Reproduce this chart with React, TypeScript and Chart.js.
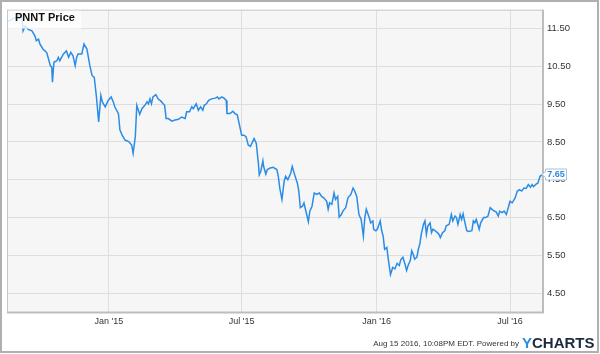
import React, { useEffect, useRef } from "react";
import { Chart, registerables } from "chart.js";

Chart.register(...registerables);

// ---- Data (days since START_DATE, closing price) ----
const START_DATE = "2014-08-15";
const END_DATE = "2016-08-15";
const dayOffsets: number[] = [
  0, 7, 11, 15, 18, 20, 22, 25, 29, 34,
  38, 40, 43, 45, 49, 54, 56, 59, 61, 62,
  64, 68, 70, 72, 77, 81, 84, 87, 90, 93,
  95, 97, 102, 105, 109, 113, 116, 119, 122, 125,
  128, 130, 134, 138, 142, 145, 147, 152, 154, 157,
  161, 166, 170, 172, 175, 177, 181, 184, 188, 191,
  193, 195, 197, 199, 203, 206, 210, 213, 215, 217,
  220, 225, 229, 234, 238, 243, 245, 249, 252, 254,
  258, 261, 264, 267, 269, 272, 275, 279, 284, 287,
  289, 293, 296, 299, 300, 304, 308, 311, 314, 317,
  320, 323, 326, 329, 332, 335, 337, 340, 343, 344,
  346, 349, 350, 353, 355, 359, 363, 368, 370, 372,
  375, 378, 380, 383, 387, 389, 393, 396, 398, 400,
  403, 405, 407, 411, 413, 416, 419, 422, 426, 429,
  432, 436, 438, 440, 443, 446, 448, 451, 453, 456,
  458, 462, 465, 469, 472, 474, 477, 480, 483, 486,
  488, 490, 494, 496, 499, 500, 503, 505, 509, 511,
  513, 515, 518, 520, 523, 526, 529, 532, 535, 537,
  540, 543, 545, 547, 550, 552, 554, 556, 559, 561,
  563, 565, 568, 570, 572, 574, 577, 579, 581, 584,
  587, 589, 591, 594, 597, 599, 603, 606, 608, 611,
  613, 615, 618, 620, 622, 624, 627, 630, 634, 636,
  638, 640, 644, 646, 650, 653, 656, 659, 663, 667,
  670, 672, 675, 678, 681, 683, 686, 689, 693, 696,
  699, 702, 705, 708, 711, 714, 716, 718, 722, 724,
  727, 730, 731,
];
const prices: number[] = [
  11.68, 11.75, 11.79, 11.8, 11.88, 11.9, 11.44, 11.57, 11.48, 11.44,
  11.31, 11.18, 11.22, 11.09, 10.96, 10.87, 10.74, 10.52, 10.48, 10.08,
  10.61, 10.65, 10.74, 10.65, 10.83, 10.91, 10.74, 10.87, 10.78, 10.52,
  10.74, 10.83, 10.83, 11.09, 10.96, 10.52, 10.26, 10.21, 9.69, 9.03,
  9.73, 9.56, 9.43, 9.6, 9.69, 9.56, 9.43, 9.25, 8.82, 8.68,
  8.55, 8.51, 8.42, 8.2, 8.64, 9.47, 9.23, 9.38, 9.47, 9.56,
  9.51, 9.64, 9.51, 9.69, 9.75, 9.64, 9.58, 9.51, 9.47, 9.12,
  9.12, 9.05, 9.08, 9.1, 9.16, 9.12, 9.3, 9.3, 9.43, 9.38,
  9.51, 9.34, 9.43, 9.34, 9.47, 9.51, 9.6, 9.64, 9.66, 9.69,
  9.64, 9.69, 9.66, 9.6, 9.25, 9.25, 9.31, 9.25, 9.22, 8.95,
  8.68, 8.68, 8.64, 8.42, 8.38, 8.51, 8.59, 8.46, 7.9, 7.63,
  7.72, 8.0, 7.85, 7.65, 7.77, 7.81, 7.83, 7.77, 7.59, 7.28,
  6.98, 7.46, 7.59, 7.5, 7.68, 7.85, 7.59, 7.41, 7.2, 6.76,
  6.8, 6.89, 6.72, 6.39, 6.67, 6.8, 7.15, 7.11, 7.15, 7.06,
  7.02, 6.93, 6.72, 6.89, 6.85, 7.15, 6.98, 7.06, 6.51, 6.58,
  6.67, 6.76, 7.02, 7.11, 7.28, 7.21, 7.06, 6.58, 6.45, 6.01,
  6.5, 6.72, 6.5, 6.36, 6.41, 6.19, 6.15, 6.19, 6.41, 6.15,
  6.01, 5.66, 5.71, 5.4, 4.99, 5.18, 5.14, 5.29, 5.23, 5.38,
  5.45, 5.25, 5.1, 5.23, 5.36, 5.62, 5.53, 5.4, 5.45, 5.66,
  5.8, 6.06, 6.32, 6.41, 6.06, 6.28, 6.36, 6.1, 6.19, 6.15,
  6.1, 6.06, 5.97, 6.1, 6.15, 6.28, 6.32, 6.58, 6.41, 6.54,
  6.5, 6.32, 6.58, 6.45, 6.6, 6.41, 6.15, 6.13, 6.15, 6.41,
  6.36, 6.45, 6.19, 6.36, 6.5, 6.5, 6.54, 6.76, 6.69, 6.65,
  6.54, 6.67, 6.63, 6.67, 6.58, 6.72, 6.93, 6.89, 7.02, 7.2,
  7.24, 7.2, 7.28, 7.27, 7.37, 7.3, 7.37, 7.32, 7.39, 7.41,
  7.59, 7.63, 7.65,
];
const xTickDates = ["2015-01-01", "2015-07-01", "2016-01-01", "2016-07-01"];
const xTickLabels = ["Jan '15", "Jul '15", "Jan '16", "Jul '16"];
const yTickValues = [4.5, 5.5, 6.5, 7.5, 8.5, 9.5, 10.5, 11.5];
const Y_MIN = 4;
const Y_MAX = 12;
const TITLE = "PNNT Price";
const FOOTER = "Aug 15 2016, 10:08PM EDT. Powered by";

const toDays = (s: string) => {
  const [y, m, d] = s.split("-").map(Number);
  const [sy, sm, sd] = START_DATE.split("-").map(Number);
  return Math.round((Date.UTC(y, m - 1, d) - Date.UTC(sy, sm - 1, sd)) / 86400000);
};

const LINE = "#2b8ce6";
const FONT = "Arial, 'Liberation Sans', Helvetica, sans-serif";

const decorPlugin = {
  id: "decor",
  beforeDraw(chart: any) {
    const { ctx, chartArea: a } = chart;
    ctx.save();
    ctx.fillStyle = "#ffffff";
    ctx.fillRect(0, 0, chart.width, chart.height);
    ctx.fillStyle = "#f6f6f6";
    ctx.fillRect(a.left, a.top, a.right - a.left, a.bottom - a.top);
    ctx.restore();
  },
  afterDatasetsDraw(chart: any) {
    const { ctx, chartArea: a } = chart;
    ctx.save();
    // plot border
    ctx.strokeStyle = "#c8c8c8";
    ctx.lineWidth = 1;
    ctx.strokeRect(a.left + 0.5, a.top + 0.5, a.right - a.left - 1, a.bottom - a.top);
    ctx.strokeStyle = "#bdbdbd";
    ctx.lineWidth = 2;
    ctx.beginPath();
    ctx.moveTo(a.left, a.bottom + 0.5);
    ctx.lineTo(a.right + 1, a.bottom + 0.5);
    ctx.moveTo(a.right, a.top);
    ctx.lineTo(a.right, a.bottom + 1);
    ctx.stroke();

    // title box
    ctx.fillStyle = "rgba(255,255,255,0.8)";
    ctx.fillRect(a.left + 1, a.top + 1, 73, 18);
    ctx.fillStyle = "#111";
    ctx.font = `bold 11px ${FONT}`;
    ctx.textAlign = "left";
    ctx.textBaseline = "alphabetic";
    ctx.fillText(TITLE, 15, 20.5);

    // last price tag
    const last = prices[prices.length - 1];
    const yp = Math.round(chart.scales.y.getPixelForValue(last));
    const bx = a.right + 2;
    const bw = 21;
    const bh = 11;
    ctx.fillStyle = "#ffffff";
    ctx.strokeStyle = "#a9c0d6";
    ctx.lineWidth = 1;
    ctx.beginPath();
    ctx.moveTo(a.right - 1, yp + 0.5);
    ctx.lineTo(bx + 0.5, yp - 2.5);
    ctx.lineTo(bx + 0.5, yp - bh / 2 + 0.5);
    ctx.lineTo(bx + bw + 0.5, yp - bh / 2 + 0.5);
    ctx.lineTo(bx + bw + 0.5, yp + bh / 2 + 0.5);
    ctx.lineTo(bx + 0.5, yp + bh / 2 + 0.5);
    ctx.lineTo(bx + 0.5, yp + 3.5);
    ctx.closePath();
    ctx.fill();
    ctx.stroke();
    ctx.fillStyle = LINE;
    ctx.font = `bold 9px ${FONT}`;
    ctx.textAlign = "center";
    ctx.textBaseline = "middle";
    ctx.fillText(last.toFixed(2), bx + bw / 2 + 0.5, yp + 1);

    // footer
    ctx.textBaseline = "alphabetic";
    ctx.textAlign = "right";
    ctx.fillStyle = "#333";
    ctx.font = `8px ${FONT}`;
    ctx.fillText(FOOTER, 519, 346);
    ctx.textAlign = "left";
    ctx.font = `bold 15px ${FONT}`;
    const yW = ctx.measureText("Y").width;
    ctx.fillStyle = "#2b8ce6";
    ctx.fillText("Y", 522, 348);
    ctx.fillStyle = "#1c2a3c";
    ctx.fillText("CHARTS", 522 + yW, 348);

    // outer frame
    ctx.strokeStyle = "#b0b0b0";
    ctx.lineWidth = 2;
    ctx.strokeRect(1, 1, 597, 351);
    ctx.restore();
  },
};

export default function App() {
  const ref = useRef<HTMLCanvasElement | null>(null);
  useEffect(() => {
    if (!ref.current) return;
    const points = dayOffsets.map((d, i) => ({ x: d, y: prices[i] }));
    const tickDays = xTickDates.map(toDays);
    const chart = new Chart(ref.current, {
      type: "line",
      data: {
        datasets: [
          {
            data: points,
            borderColor: LINE,
            borderWidth: 1.5,
            pointRadius: 0,
            tension: 0,
            fill: false,
          },
        ],
      },
      options: {
        animation: false,
        responsive: false,
        maintainAspectRatio: false,
        layout: { padding: { left: 7, top: 7, right: 0, bottom: 0 } },
        plugins: { legend: { display: false }, tooltip: { enabled: false } },
        scales: {
          x: {
            type: "linear",
            min: 0,
            max: toDays(END_DATE),
            afterBuildTicks: (s: any) => {
              s.ticks = tickDays.map((v) => ({ value: v }));
            },
            afterFit: (s: any) => {
              s.height = 42;
            },
            grid: { color: "#dedede", lineWidth: 1, drawTicks: false },
            border: { display: false },
            ticks: {
              autoSkip: false,
              maxRotation: 0,
              padding: 4,
              color: "#333",
              font: { size: 9, family: FONT },
              callback: (v: any) => {
                const i = tickDays.indexOf(Number(v));
                return i >= 0 ? xTickLabels[i] : "";
              },
            },
          },
          y: {
            position: "right",
            min: Y_MIN,
            max: Y_MAX,
            afterBuildTicks: (s: any) => {
              s.ticks = yTickValues.map((v) => ({ value: v }));
            },
            afterFit: (s: any) => {
              s.width = 57;
            },
            grid: { color: "#dedede", lineWidth: 1, drawTicks: false },
            border: { display: false },
            ticks: {
              padding: 4,
              color: "#333",
              font: { size: 9.5, family: FONT },
              callback: (v: any) => Number(v).toFixed(2),
            },
          },
        },
      },
      plugins: [decorPlugin],
    });
    return () => chart.destroy();
  }, []);
  return (
    <div style={{ position: "fixed", left: 0, top: 0, width: 600, height: 354 }}>
      <canvas ref={ref} width={600} height={354} style={{ width: 600, height: 354 }} />
    </div>
  );
}
